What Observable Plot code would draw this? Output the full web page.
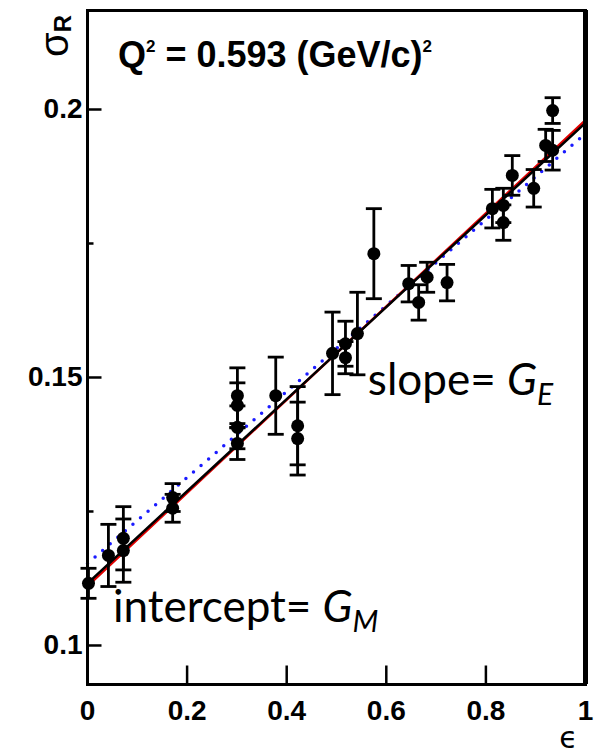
<!DOCTYPE html>
<html><head><meta charset="utf-8">
<script src="https://cdn.jsdelivr.net/npm/d3@7"></script>
<script src="https://cdn.jsdelivr.net/npm/@observablehq/plot@0.6"></script>
<style>html,body{margin:0;padding:0;background:#fff;overflow:hidden}</style>
</head><body><div id="chart"></div>
<script>
// ε values of the measured points
const epsilon = [0.002, 0.042, 0.072, 0.072, 0.171, 0.171, 0.301, 0.301, 0.301, 0.301,
  0.378, 0.422, 0.422, 0.492, 0.518, 0.518, 0.542, 0.575, 0.645, 0.665,
  0.682, 0.722, 0.813, 0.835, 0.835, 0.853, 0.896, 0.920, 0.934, 0.934];
// reduced cross section σR
const sigmaR = [0.1116, 0.1168, 0.1200, 0.1177, 0.1276, 0.1256, 0.1466, 0.1448, 0.1407, 0.1377,
  0.1466, 0.1410, 0.1386, 0.1545, 0.1563, 0.1537, 0.1582, 0.1731, 0.1675, 0.1640,
  0.1687, 0.1677, 0.1815, 0.1821, 0.1789, 0.1877, 0.1853, 0.1933, 0.1998, 0.1924];
// error bars (±)
const sigmaErr = [0.0028, 0.0058, 0.0059, 0.0059, 0.0026, 0.0026, 0.0052, 0.0042, 0.0040, 0.0030,
  0.0072, 0.0073, 0.0068, 0.0077, 0.0042, 0.0030, 0.0077, 0.0084, 0.0034, 0.0033,
  0.0028, 0.0034, 0.0036, 0.0032, 0.0033, 0.0037, 0.0035, 0.0030, 0.0024, 0.0037];

// fit lines (end points)
const fitEps = [0, 1];
const blackFitSigma = [0.1116, 0.1975];
const redFitSigma = [0.1111, 0.1980];
const blueFitSigma = [0.1153, 0.1955];

// ticks
const xTickValues = [0, 0.2, 0.4, 0.6, 0.8, 1];
const xTickLabels = ["0", "0.2", "0.4", "0.6", "0.8", "1"];
const xInnerTicks = [0.2, 0.4, 0.6, 0.8];
const yTickValues = [0.1, 0.15, 0.2];
const yTickLabels = ["0.1", "0.15", "0.2"];
const yMinorTicks = [0.125, 0.175];

const titleText = ["Q", "2", " = 0.593 (GeV/c)", "2"];
const slopeText = ["slope= ", "G", "E"];
const interceptText = ["intercept= ", "G", "M"];

const points = epsilon.map((e, i) => ({e, s: sigmaR[i], err: sigmaErr[i]}));
const fitTable = (ys) => fitEps.map((e, i) => ({e, s: ys[i]}));

const cap = {draw(ctx) { ctx.moveTo(-8, 0); ctx.lineTo(8, 0); }};
const tickRightMajor = {draw(ctx) { ctx.moveTo(0, 0); ctx.lineTo(14, 0); }};
const tickRightMinor = {draw(ctx) { ctx.moveTo(0, 0); ctx.lineTo(6, 0); }};
const tickUp = {draw(ctx) { ctx.moveTo(0, 0); ctx.lineTo(0, -19); }};

const chart = Plot.plot({
  width: 595, height: 756,
  marginLeft: 87, marginRight: 10, marginTop: 10, marginBottom: 72,
  style: {fontFamily: "Liberation Sans, Arial, sans-serif", background: "white", color: "black"},
  x: {domain: [0, 1]},
  y: {domain: [0.09272, 0.21847]},
  marks: [
    Plot.line(fitTable(blueFitSigma), {x: "e", y: "s", stroke: "#1b1bff", strokeWidth: 3.5, strokeDasharray: "0,10", strokeLinecap: "round"}),
    Plot.line(fitTable(redFitSigma), {x: "e", y: "s", stroke: "#e00000", strokeWidth: 2.5}),
    Plot.line(fitTable(blackFitSigma), {x: "e", y: "s", stroke: "black", strokeWidth: 2.5}),
    Plot.ruleX(points, {x: "e", y1: d => d.s - d.err, y2: d => d.s + d.err, stroke: "black", strokeWidth: 2.8}),
    Plot.dot(points, {x: "e", y: d => d.s + d.err, symbol: cap, fill: "none", stroke: "black", strokeWidth: 2.8}),
    Plot.dot(points, {x: "e", y: d => d.s - d.err, symbol: cap, fill: "none", stroke: "black", strokeWidth: 2.8}),
    Plot.dot(points, {x: "e", y: "s", r: 6.5, fill: "black", stroke: "none"}),
    Plot.dot(yTickValues, {y: d => d, frameAnchor: "left", symbol: tickRightMajor, fill: "none", stroke: "black", strokeWidth: 2.5}),
    Plot.dot(yMinorTicks, {y: d => d, frameAnchor: "left", symbol: tickRightMinor, fill: "none", stroke: "black", strokeWidth: 2.5}),
    Plot.dot(xInnerTicks, {x: d => d, frameAnchor: "bottom", symbol: tickUp, fill: "none", stroke: "black", strokeWidth: 2.5}),
    Plot.frame({stroke: "black", strokeWidth: 3}),
    Plot.ruleX([1], {stroke: "black", strokeWidth: 5}),
    Plot.axisX(xTickValues, {tickSize: 0, tickPadding: 16, fontSize: 28, fontWeight: "bold", label: null,
      tickFormat: d => xTickLabels[xTickValues.indexOf(d)]}),
    Plot.axisY(yTickValues, {tickSize: 0, tickPadding: 5, fontSize: 28, fontWeight: "bold", label: null,
      tickFormat: d => yTickLabels[yTickValues.indexOf(d)]})
  ]
});
document.getElementById("chart").appendChild(chart);

const sx = chart.scale("x"), sy = chart.scale("y");
const svg = d3.select(chart);

// title
const t = svg.append("text")
  .attr("x", sx.apply(0.0622)).attr("y", sy.apply(0.20784))
  .attr("text-anchor", "start")
  .attr("font-family", "Liberation Sans, Arial, sans-serif")
  .attr("font-weight", "bold").attr("font-size", 36).attr("fill", "black");
t.append("tspan").text(titleText[0]);
t.append("tspan").attr("font-size", 17).attr("dy", -15).text(titleText[1]);
t.append("tspan").attr("dy", 15).text(titleText[2]);
t.append("tspan").attr("font-size", 17).attr("dy", -15).text(titleText[3]);

function annot(parts, e, v) {
  const a = svg.append("text")
    .attr("x", sx.apply(e)).attr("y", sy.apply(v))
    .attr("text-anchor", "start")
    .attr("font-family", "Lato, 'Open Sans', sans-serif")
    .attr("font-size", 44).attr("fill", "black");
  a.append("tspan").text(parts[0]);
  a.append("tspan").attr("font-style", "italic").text(parts[1]);
  a.append("tspan").attr("font-style", "italic").attr("font-size", 30).attr("dy", 10).text(parts[2]);
}
annot(slopeText, 0.564, 0.14664);
annot(interceptText, 0.0522, 0.10429);

// y-axis label σR (rotated)
const yl = svg.append("text")
  .attr("transform", "translate(68,57) rotate(-90)")
  .attr("text-anchor", "start")
  .attr("font-family", "Liberation Sans, Arial, sans-serif")
  .attr("font-size", 40).attr("fill", "black");
yl.append("tspan").text("σ");
yl.append("tspan").attr("font-size", 24).attr("font-weight", "bold").attr("dy", 3).text("R");

// x-axis label ε
svg.append("text")
  .attr("x", sx.apply(0.967)).attr("y", 748)
  .attr("text-anchor", "middle")
  .attr("font-family", "DejaVu Sans, sans-serif")
  .attr("font-size", 30).attr("fill", "black")
  .text("ϵ");
</script>
</body></html>
